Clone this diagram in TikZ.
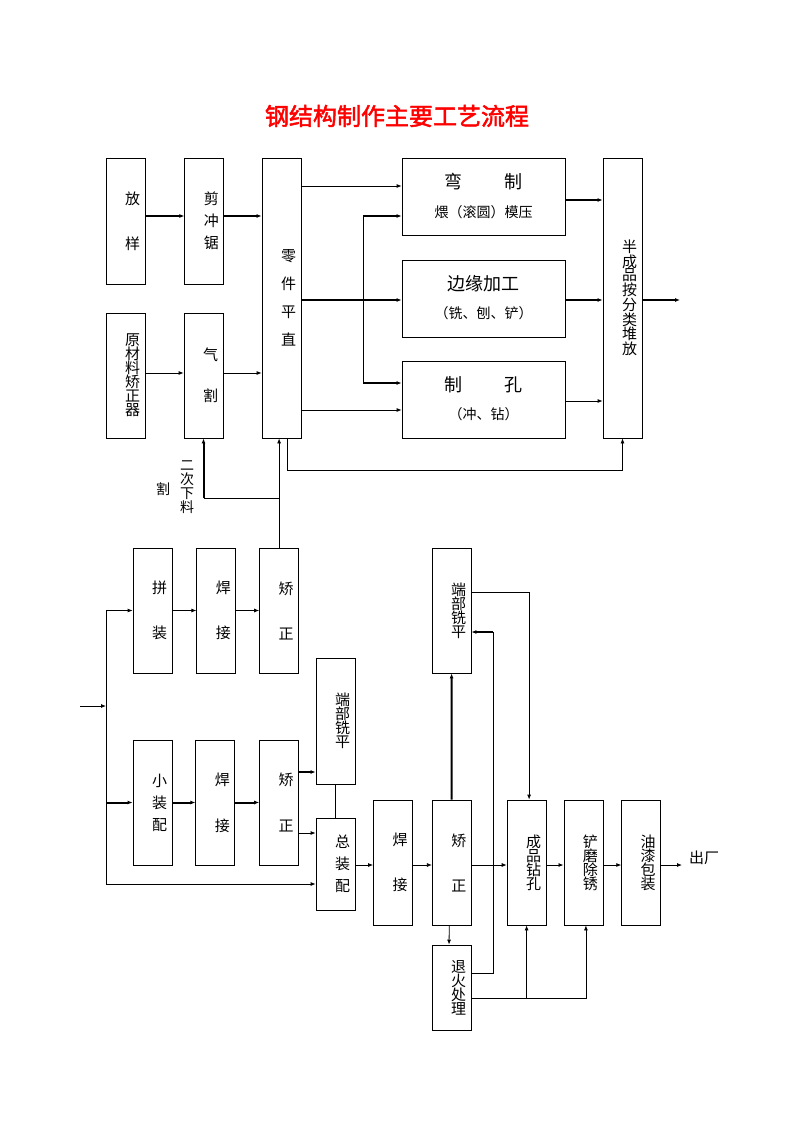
\documentclass[tikz,border=0pt]{standalone}
\usepackage{fontspec}
\newfontfamily\cjk{Noto Sans CJK SC}
\newfontfamily\cjkhead{Noto Sans CJK SC}[FakeBold=2]
\usetikzlibrary{arrows.meta}
\usetikzlibrary{positioning}

\begin{document}
\begin{tikzpicture}[x=1pt,y=-1pt,>={Latex[length=5pt,width=4pt]},line width=0.8pt,
			vt/.style={font=\cjk\fontsize{15}{#1}\selectfont,align=center,xshift=7pt},
			big/.style={font=\cjk\fontsize{18}{18}\selectfont,yshift=15pt},
			small/.style={font=\cjk\fontsize{14}{14}\selectfont,yshift=-15pt}]
			\tikzstyle{box}=[draw,inner sep=0pt,minimum width=39pt]
			\tikzstyle{wide}=[draw,inner sep=0pt,minimum width=163pt,minimum height=77pt]
			\tikzstyle{heavy}=[line width=2pt]
			\useasboundingbox (0,0) rectangle (794,1123);
			
			\node[font=\cjkhead\fontsize{24}{24}\selectfont,text=red] (title) at (397,116) {钢结构制作主要工艺流程};
			
			% upper part
			\node[box,minimum height=126pt,label={[vt=45pt]center:放\\样}] (fy) at (125.5,221) {};
			\node[box,minimum height=126pt,right=39pt of fy,label={[vt=22pt]center:剪\\冲\\锯}] (jcj) {};
			\node[box,minimum height=125pt,label={[vt=14pt]center:原\\材\\料\\矫\\正\\器}] (ycl) at (125.5,375.5) {};
			\node[box,minimum height=125pt,label={[vt=41pt]center:气\\割}] (qg) at (203.5,375.5) {};
			\node[box,minimum height=280pt,label={[vt=28pt]center:零\\件\\平\\直}] (ljpz) at (281.5,298) {};
			\node[wide,label={[big]center:弯\hspace{42pt}制},label={[small]center:煨（滚圆）模压}] (wz) at (483.5,197) {};
			\node[wide,label={[big]center:边缘加工},label={[small]center:（铣、刨、铲）}] (byjg) at (483.5,298.5) {};
			\node[wide,label={[big]center:制\hspace{42pt}孔},label={[small]center:（冲、钻）}] (zk) at (483.5,399.5) {};
			\node[box,minimum height=280pt,label={[vt=13.5pt]center:半\\成\\品\\按\\分\\类\\堆\\放}] (bcp) at (622.5,298) {};
			\coordinate (out1) at (680,300);
			
			\draw[->,heavy] (fy.east |- 0,216) -- (jcj.west |- 0,216);
			\draw[->,heavy] (jcj.east |- 0,216) -- (ljpz.west |- 0,216);
			\draw[->] (ycl.east |- 0,373) -- (qg.west |- 0,373);
			\draw[->] (qg.east |- 0,373) -- (ljpz.west |- 0,373);
			\draw[->] (ljpz.east |- 0,186) -- (wz.west |- 0,186);
			\draw[->,heavy] (ljpz.east |- 0,300) -- (byjg.west |- 0,300);
			\draw[->] (ljpz.east |- 0,410) -- (zk.west |- 0,410);
			\coordinate (br1) at (363,216);
			\coordinate (br2) at (363,383);
			\draw (br1) -- (br2);
			\draw[->,heavy] (br1) -- (wz.west |- br1);
			\draw[->,heavy] (br2) -- (zk.west |- br2);
			\draw[->,heavy] (wz.east |- 0,200) -- (bcp.west |- 0,200);
			\draw[->,heavy] (byjg.east |- 0,300) -- (bcp.west |- 0,300);
			\draw[->] (zk.east |- 0,401) -- (bcp.west |- 0,401);
			\draw[->,heavy] (bcp.east |- out1) -- (out1);
			\draw[->] ([xshift=5.5pt]ljpz.south) -- ++(0,32) -| (bcp.south);
			
			% middle part
			\node[box,minimum height=125pt,label={[vt=45pt]center:拼\\装}] (pz) at (152.5,610.5) {};
			\node[box,minimum height=125pt,right=24pt of pz,label={[vt=45pt]center:焊\\接}] (hj1) {};
			\node[box,minimum height=125pt,right=23pt of hj1,label={[vt=45pt]center:矫\\正}] (jz1) {};
			\node[box,minimum height=125pt,label={[vt=22pt]center:小\\装\\配}] (xzp) at (152.5,802.5) {};
			\node[box,minimum height=125pt,right=23pt of xzp,label={[vt=46pt]center:焊\\接}] (hj2) {};
			\node[box,minimum height=125pt,right=24pt of hj2,label={[vt=46pt]center:矫\\正}] (jz2) {};
			\node[box,minimum height=126pt,label={[vt=14pt]center:端\\部\\铣\\平}] (dbxp1) at (335.5,721) {};
			\node[box,minimum height=92pt,label={[vt=22pt]center:总\\装\\配}] (zzp) at (335.5,864) {};
			
			\node[font=\cjk\fontsize{14}{14}\selectfont,align=center] (ecxl) at (187,487) {二\\次\\下\\料};
			\node[font=\cjk\fontsize{14}{14}\selectfont] (ge) at (163,489) {割};
			
			\draw[->] (jz1.north) -- (jz1.north |- ljpz.south);
			\draw (jz1.north |- 0,498) -- (qg.south |- 0,498);
			\draw[->,heavy] (qg.south |- 0,498) -- (qg.south);
			
			\coordinate (in) at (80,706);
			\coordinate (trunk) at (106,706);
			\draw[->] (in) -- (trunk);
			\draw (trunk |- pz.west) -- (trunk |- 0,884);
			\draw[->] (trunk |- pz.west) -- (pz.west);
			\draw[->,heavy] (trunk |- xzp.west) -- (xzp.west);
			\draw[->] (trunk |- 0,884) -- (zzp.west |- 0,884);
			
			\draw[->] (pz) -- (hj1);
			\draw[->] (hj1) -- (jz1);
			\draw[->,heavy] (xzp) -- (hj2);
			\draw[->,heavy] (hj2) -- (jz2);
			\draw[->,heavy] (jz2.east |- 0,772) -- (dbxp1.west |- 0,772);
			\draw[->] (jz2.east |- 0,833) -- (zzp.west |- 0,833);
			\draw (dbxp1) -- (zzp);
			
			% lower part
			\node[box,minimum height=125pt,label={[vt=45pt]center:焊\\接}] (hj3) at (393,862.5) {};
			\node[box,minimum height=125pt,right=19pt of hj3,label={[vt=45pt]center:矫\\正}] (jz3) {};
			\node[box,minimum height=125pt,label={[vt=14pt]center:端\\部\\铣\\平}] (dbxp2) at (451.5,610.5) {};
			\node[box,minimum height=125pt,right=35pt of jz3,label={[vt=14pt]center:成\\品\\钻\\孔}] (cpzk) {};
			\node[box,minimum height=125pt,right=17pt of cpzk,label={[vt=14pt]center:铲\\磨\\除\\锈}] (cmcx) {};
			\node[box,minimum height=125pt,right=18pt of cmcx,label={[vt=14pt]center:油\\漆\\包\\装}] (yqbz) {};
			\node[box,minimum height=85pt,label={[vt=14pt]center:退\\火\\处\\理}] (thcl) at (451.5,987.5) {};
			\node[font=\cjk\fontsize{15}{15}\selectfont] (cc) at (704,858) {出厂};
			\coordinate (out2) at (682,865);
			
			\draw[->] (zzp.east |- 0,865) -- (hj3.west |- 0,865);
			\draw[->] (hj3.east |- 0,865) -- (jz3.west |- 0,865);
			\draw[->] (jz3.east |- 0,865) -- (cpzk.west |- 0,865);
			\draw[->] (cpzk.east |- 0,865) -- (cmcx.west |- 0,865);
			\draw[->] (cmcx.east |- 0,865) -- (yqbz.west |- 0,865);
			\draw[->] (yqbz.east |- out2) -- (out2);
			\draw[->,heavy] (jz3) -- (dbxp2);
			\draw[->] (dbxp2.east |- 0,592) -| ([xshift=2.5pt]cpzk.north);
			\draw[->] ([xshift=-2.5pt]jz3.south) -- ([xshift=-2.5pt]thcl.north);
			\coordinate (rt) at (493,632);
			\draw (thcl.east |- 0,973) -| (rt);
			\draw[->,heavy] (rt) -- (dbxp2.east |- rt);
			\draw[->] (thcl.east |- 0,998) -| ([xshift=2.5pt]cmcx.south);
			\draw[->] (cpzk.south |- 0,998) -- (cpzk.south);
			
			;
\end{tikzpicture}
\end{document}
